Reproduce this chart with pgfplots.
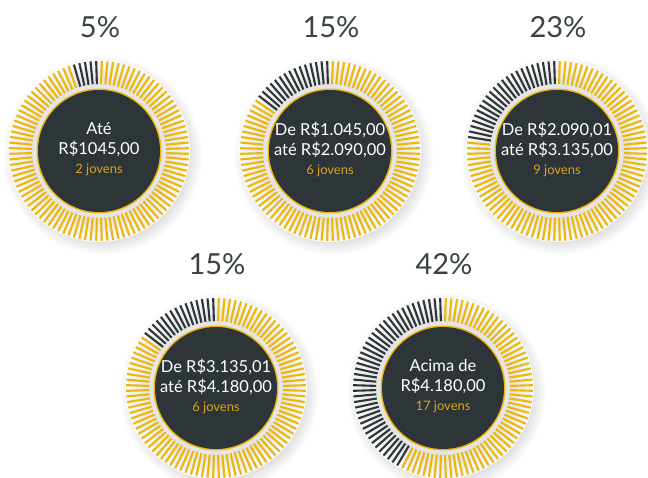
\documentclass[border=0pt]{standalone}
\usepackage{pgfplots}
\pgfplotsset{compat=1.18}
\usepackage{fontspec}
\setmainfont{Lato}

\definecolor{dk}{HTML}{2E3538}
\definecolor{yl}{HTML}{ECB70B}
\definecolor{jv}{HTML}{D9A514}
\definecolor{lbl}{HTML}{3A4245}

% 25bp is the radius of the circle the shading is put on
\pgfdeclareradialshading{halo}{\pgfpoint{0bp}{0bp}}{color(0bp)=(black!16); color(21bp)=(black!14); color(25bp)=(white); color(50bp)=(white)}
\pgfdeclareradialshading{plate}{\pgfpoint{0bp}{0bp}}{color(0bp)=(black!16); color(18.4bp)=(black!11); color(25bp)=(white!98!black); color(50bp)=(white)}

% tick segments for one gauge: centre x, centre y, percent (dark ticks)
\newcommand\buildticks[3]{%
  \gdef\darkL{}\gdef\yelL{}%
  \foreach \k in {0,...,99}{%
    \pgfmathsetmacro\ang{91.8+3.6*\k}%
    \pgfmathsetmacro\xa{#1+67*cos(\ang)}%
    \pgfmathsetmacro\ya{#2+67*sin(\ang)}%
    \pgfmathsetmacro\xb{#1+90*cos(\ang)}%
    \pgfmathsetmacro\yb{#2+90*sin(\ang)}%
    \ifnum\k<#3\relax
      \xdef\darkL{\darkL (\xa,\ya) (\xb,\yb) (nan,nan)}%
    \else
      \xdef\yelL{\yelL (\xa,\ya) (\xb,\yb) (nan,nan)}%
    \fi}%
}

% centre x, centre y, percent, text, jovens
\newcommand\gauge[5]{%
  \shade[shading=halo] (axis cs:#1+3,#2-4) circle[radius=100];
  \shade[shading=plate] (axis cs:#1,#2) circle[radius=91];
  \buildticks{#1}{#2}{#3}%
  \edef\tmp{\noexpand\addplot[dk,line width=2.1pt,unbounded coords=jump] coordinates {\darkL};}\tmp
  \edef\tmp{\noexpand\addplot[yl,line width=2.1pt,unbounded coords=jump] coordinates {\yelL};}\tmp
  \fill[black!10] (axis cs:#1,#2) circle[radius=66];
  \fill[yl] (axis cs:#1,#2) circle[radius=62.5];
  \fill[dk] (axis cs:#1,#2) circle[radius=61];
  \node[text=white,align=center,font=\fontsize{16.5}{20}\selectfont] at (axis cs:#1,#2+2)
    {#4\\[-1pt]{\color{jv}\fontsize{13}{15}\selectfont #5}};
  \node[text=lbl,font=\fontsize{29}{32}\selectfont] at (axis cs:#1+1,#2+124) {#3\%};
}

\begin{document}
\begin{tikzpicture}
\begin{axis}[width=648pt,height=477pt,scale only axis,
  xmin=0,xmax=648,ymin=0,ymax=477,hide axis]
\fill[white] (axis cs:0,0) rectangle (axis cs:648,477);
\gauge{99}{326}{5}{Até\\R\$1045,00}{2 jovens}
\gauge{330}{326}{15}{De R\$1.045,00\\até R\$2.090,00}{6 jovens}
\gauge{557}{326}{23}{De R\$2.090,01\\até R\$3.135,00}{9 jovens}
\gauge{216}{89}{15}{De R\$3.135,01\\até R\$4.180,00}{6 jovens}
\gauge{443}{89}{42}{Acima de\\R\$4.180,00}{17 jovens}
\end{axis}
\end{tikzpicture}
\end{document}
